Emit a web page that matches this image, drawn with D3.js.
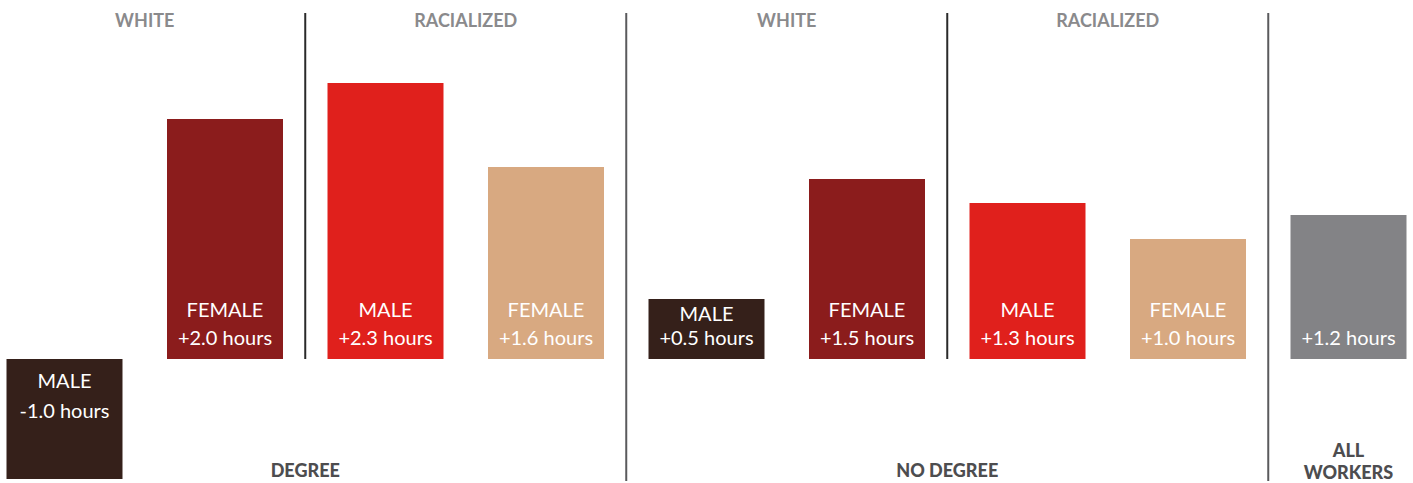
<!DOCTYPE html>
<html><head><meta charset="utf-8">
<script src="https://cdn.jsdelivr.net/npm/d3@7"></script>
<style>html,body{margin:0;padding:0;background:#fff;}svg{display:block;}</style>
</head><body>
<svg id="chart" width="1413" height="483"></svg>
<script>
const ids = ["dwm","dwf","drm","drf","nwm","nwf","nrm","nrf","all"];
const genders = ["MALE","FEMALE","MALE","FEMALE","MALE","FEMALE","MALE","FEMALE",""];
const values = [-1.0, 2.0, 2.3, 1.6, 0.5, 1.5, 1.3, 1.0, 1.2];
const valueLabels = ["-1.0 hours","+2.0 hours","+2.3 hours","+1.6 hours","+0.5 hours","+1.5 hours","+1.3 hours","+1.0 hours","+1.2 hours"];
const colors = ["#35201a","#8b1c1c","#e0201c","#d8a981","#35201a","#8b1c1c","#e0201c","#d8a981","#838386"];
const raceGroups = [["WHITE",0,1],["RACIALIZED",2,3],["WHITE",4,5],["RACIALIZED",6,7]];
const eduGroups = [["DEGREE",0,3],["NO DEGREE",4,7]];

const svg = d3.select("#chart");
const font = "Lato, 'Open Sans', sans-serif";

const x = d3.scaleBand().domain(ids).range([0,1413]).paddingInner(0.2773).paddingOuter(0.0405);
const y = d3.scaleLinear().domain([-1, 2.3]).range([479, 83]);
const y0 = y(0);
const bw = x.bandwidth();

// separators
const seps = [
  {between:[1,2], long:false},
  {between:[3,4], long:true},
  {between:[5,6], long:false},
  {between:[7,8], long:true}
];
svg.selectAll("line.sep").data(seps).enter().append("line")
  .attr("x1", d => (x(ids[d.between[0]]) + bw + x(ids[d.between[1]])) / 2)
  .attr("x2", d => (x(ids[d.between[0]]) + bw + x(ids[d.between[1]])) / 2)
  .attr("y1", 13)
  .attr("y2", d => d.long ? 481 : y0)
  .attr("stroke", d => d.long ? "#5a5a5c" : "#2a2a2a")
  .attr("stroke-width", 2);

// bars
svg.selectAll("rect.bar").data(values).enter().append("rect")
  .attr("x", (d,i) => x(ids[i]))
  .attr("width", bw)
  .attr("y", d => Math.min(y(d), y0))
  .attr("height", d => Math.abs(y(d) - y0))
  .attr("fill", (d,i) => colors[i]);

// labels inside bars
values.forEach((v,i) => {
  const cx = x(ids[i]) + bw/2;
  let vBase, gBase;
  if (v < 0) { gBase = y0 + 29; vBase = gBase + 30; }
  else {
    vBase = y0 - 14;
    gBase = (y0 - y(v)) < 80 ? vBase - 24 : vBase - 28;
  }
  const g = svg.append("g").attr("font-family", font).attr("font-size", 20).attr("fill", "#fff").attr("text-anchor","middle");
  if (genders[i]) g.append("text").attr("x", cx).attr("y", gBase).text(genders[i]);
  g.append("text").attr("x", cx).attr("y", vBase).text(valueLabels[i]);
});

// race headers
svg.selectAll("text.race").data(raceGroups).enter().append("text")
  .attr("x", d => (x(ids[d[1]]) + x(ids[d[2]]) + bw) / 2)
  .attr("y", 27)
  .attr("text-anchor","middle")
  .attr("font-family", font).attr("font-weight", 700).attr("font-size", 18)
  .attr("fill", "#8a8a8c")
  .text(d => d[0]);

// education labels
svg.selectAll("text.edu").data(eduGroups).enter().append("text")
  .attr("x", d => (x(ids[d[1]]) + x(ids[d[2]]) + bw) / 2)
  .attr("y", 477)
  .attr("text-anchor","middle")
  .attr("font-family", font).attr("font-weight", 900).attr("font-size", 18)
  .attr("fill", "#4d4d4f")
  .text(d => d[0]);

const allX = x("all") + bw/2;
const allT = svg.append("text").attr("text-anchor","middle")
  .attr("font-family", font).attr("font-weight", 900).attr("font-size", 18).attr("fill", "#4d4d4f");
allT.append("tspan").attr("x", allX).attr("y", 457).text("ALL");
allT.append("tspan").attr("x", allX).attr("y", 479).text("WORKERS");
</script>
</body></html>
